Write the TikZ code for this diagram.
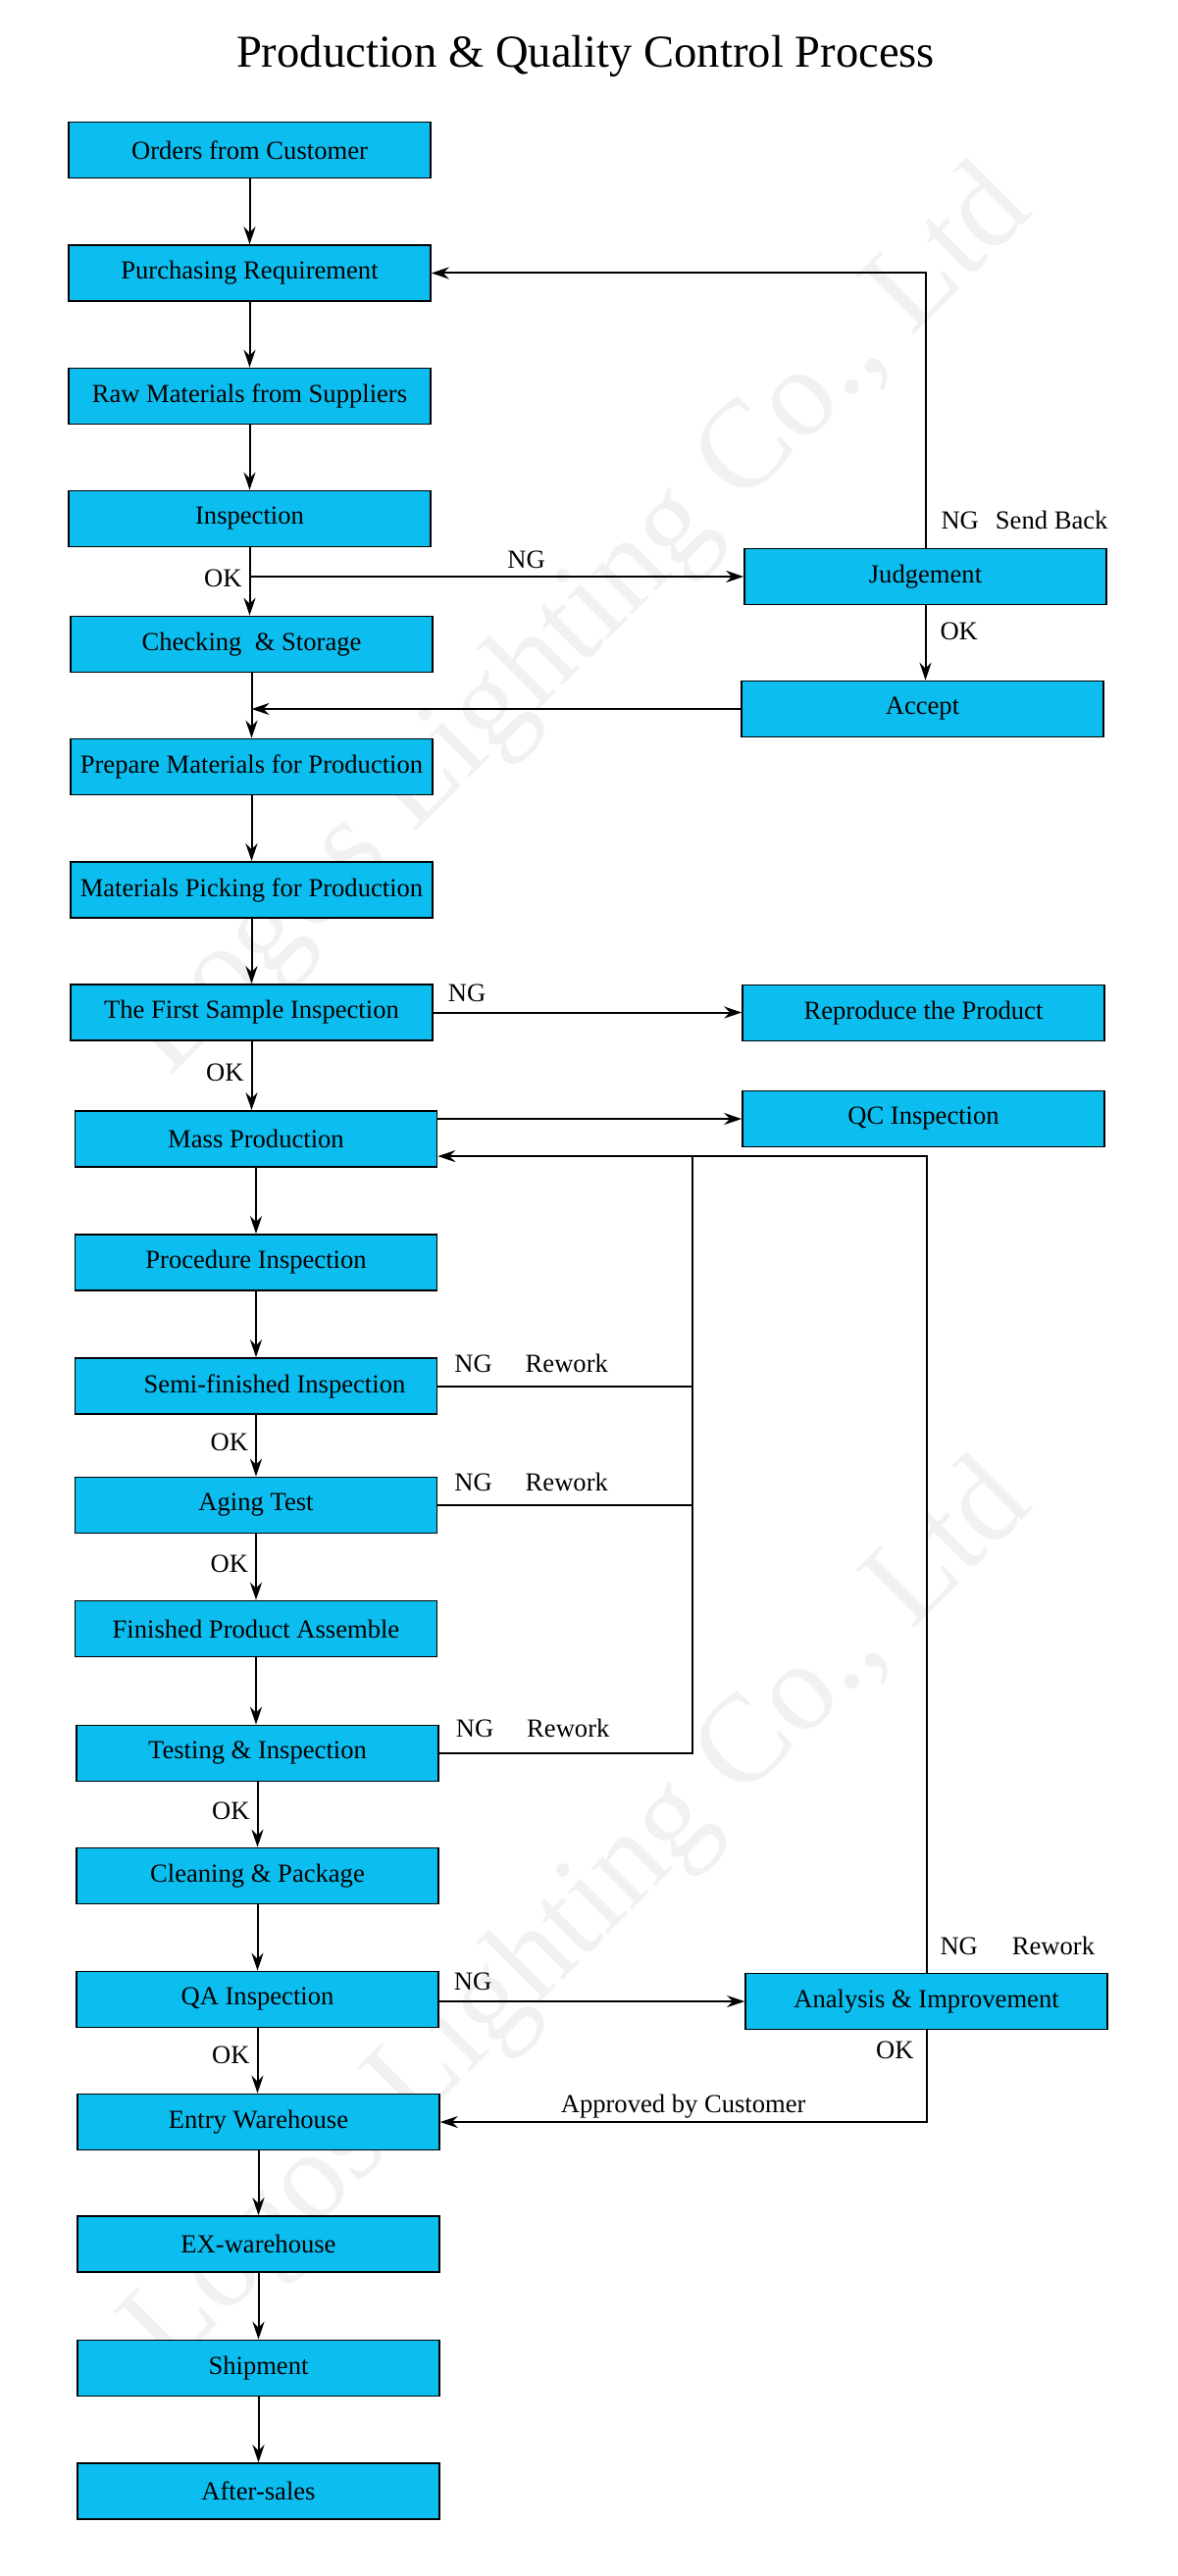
\documentclass[tikz,border=0pt]{standalone}
\usepackage{fontspec}
\setmainfont{Liberation Serif}
\usetikzlibrary{arrows.meta, positioning, calc}
\definecolor{boxblue}{RGB}{12,190,240}
\definecolor{markgray}{RGB}{241,241,241}
\newcommand{\boxfont}{\fontsize{13.3pt}{15pt}\selectfont}

\begin{document}
\begin{tikzpicture}[x=0.5pt, y=-0.5pt, every node/.style={font=\boxfont},
		box/.style={draw, line width=0.8pt, fill=boxblue, minimum width=184.5pt, minimum height=28.5pt, inner sep=0pt},
		flow/.style={line width=1pt, -{Stealth[length=9pt, width=6pt, inset=3pt]}},
		link/.style={line width=1pt},
		lbl/.style={inner sep=1.5pt},
		logo/.style={rotate=45, text=markgray, font=\fontsize{64pt}{70pt}\selectfont}]
		\useasboundingbox (0,0) rectangle (1200,2627);
		\node[logo] (logo1) at (592,637) {Logos Lighting Co., Ltd};
		\node[logo] (logo2) at (592,1957) {Logos Lighting Co., Ltd};
		\node[font=\fontsize{23.3pt}{28pt}\selectfont] (title) at (597,57) {Production \& Quality Control Process};
		\node[box] (ord) at (254.5,153) {Orders from Customer};
		\node[box] (pur) at (254.5,278.5) {Purchasing Requirement};
		\node[box] (raw) at (254.5,404) {Raw Materials from Suppliers};
		\node[box] (insp) at (254.5,529) {Inspection};
		\node[box] (chk) at (256.5,657) {Checking\ \ \& Storage};
		\node[box] (prep) at (256.5,782) {Prepare Materials for Production};
		\node[box] (pick) at (256.5,907.5) {Materials Picking for Production};
		\node[box] (first) at (256.5,1032.5) {The First Sample Inspection};
		\node[box] (mass) at (261,1161.5) {Mass Production};
		\node[box] (proc) at (261,1287.5) {Procedure Inspection};
		\node[box] (semi) at (261,1413.5) {\hspace*{19pt}Semi-finished Inspection};
		\node[box] (aging) at (261,1535) {Aging Test};
		\node[box] (fin) at (261,1661) {Finished Product Assemble};
		\node[box] (test) at (262.5,1788) {Testing \& Inspection};
		\node[box] (clean) at (262.5,1913) {Cleaning \& Package};
		\node[box] (qa) at (262.5,2039) {QA Inspection};
		\node[box] (entry) at (263.5,2164) {Entry Warehouse};
		\node[box] (exw) at (263.5,2288.5) {EX-warehouse};
		\node[box] (ship) at (263.5,2415) {Shipment};
		\node[box] (after) at (263.5,2540.5) {After-sales};
		\node[box] (judge) at (943.5,588) {Judgement};
		\node[box] (accept) at (940.5,723) {Accept};
		\node[box] (repro) at (941.5,1033) {Reproduce the Product};
		\node[box] (qc) at (941.5,1141) {QC Inspection};
		\node[box] (anal) at (944.5,2041) {Analysis \& Improvement};
		\coordinate (fork) at (insp.south |- judge.west);
		\coordinate (massin) at ($(mass.south east)!0.2!(mass.north east)$);
		\coordinate (rework) at ([xshift=130pt]massin);
		\draw[flow] (ord.south) -- (ord.south |- pur.north);
		\draw[flow] (pur.south) -- (pur.south |- raw.north);
		\draw[flow] (raw.south) -- (raw.south |- insp.north);
		\draw[flow] (insp.south) -- node[lbl, pos=0.45, left=2pt] {OK} (insp.south |- chk.north);
		\draw[flow] (fork) -- node[lbl, pos=0.56, above=2pt] {NG} (judge.west);
		\draw[flow] (judge.north) |- node[lbl, pos=0.05, right=6pt] {NG\hspace{8.5pt}Send Back} (pur.east);
		\draw[flow] (judge.south) -- node[lbl, pos=0.35, right=5.5pt] {OK} (judge.south |- accept.north);
		\draw[flow] (accept.west) -- (accept.west -| chk.south);
		\draw[flow] (chk.south) -- (chk.south |- prep.north);
		\draw[flow] (prep.south) -- (prep.south |- pick.north);
		\draw[flow] (pick.south) -- (pick.south |- first.north);
		\draw[flow] (first.east) -- node[lbl, pos=0, above right=3.5pt and 5.5pt] {NG} (first.east -| repro.west);
		\draw[flow] (first.south) -- node[lbl, pos=0.45, left=2pt] {OK} (first.south |- mass.north);
		\draw[flow] (mass.east |- qc.west) -- (qc.west);
		\draw[flow] (mass.south) -- (mass.south |- proc.north);
		\draw[flow] (proc.south) -- (proc.south |- semi.north);
		\draw[link] (semi.east) -- node[lbl, pos=0, above right=5pt and 6.5pt] {NG\hspace{17pt}Rework} (semi.east -| rework);
		\draw[flow] (semi.south) -- node[lbl, pos=0.45, left=2pt] {OK} (semi.south |- aging.north);
		\draw[link] (aging.east) -- node[lbl, pos=0, above right=5pt and 6.5pt] {NG\hspace{17pt}Rework} (aging.east -| rework);
		\draw[flow] (aging.south) -- node[lbl, pos=0.45, left=2pt] {OK} (aging.south |- fin.north);
		\draw[flow] (fin.south) -- (fin.south |- test.north);
		\draw[link] (test.east) -- node[lbl, pos=0, above right=6pt and 6.5pt] {NG\hspace{17pt}Rework} (test.east -| rework) -- (rework);
		\draw[flow] (test.south) -- node[lbl, pos=0.45, left=2pt] {OK} (test.south |- clean.north);
		\draw[flow] (clean.south) -- (clean.south |- qa.north);
		\draw[flow] (qa.east |- anal.west) -- node[lbl, pos=0, above right=3.5pt and 5.5pt] {NG} (anal.west);
		\draw[flow] (anal.north) |- node[lbl, pos=0, above right=7pt and 5pt] {NG\hspace{17.5pt}Rework} (massin);
		\draw[flow] (qa.south) -- node[lbl, pos=0.42, left=2pt] {OK} (qa.south |- entry.north);
		\draw[flow] (anal.south) |- node[lbl, pos=0.11, left=4.5pt] {OK} node[lbl, pos=0.75, above=0pt] {Approved by Customer} (entry.east);
		\draw[flow] (entry.south) -- (entry.south |- exw.north);
		\draw[flow] (exw.south) -- (exw.south |- ship.north);
		\draw[flow] (ship.south) -- (ship.south |- after.north);
	\end{tikzpicture}
\end{document}
